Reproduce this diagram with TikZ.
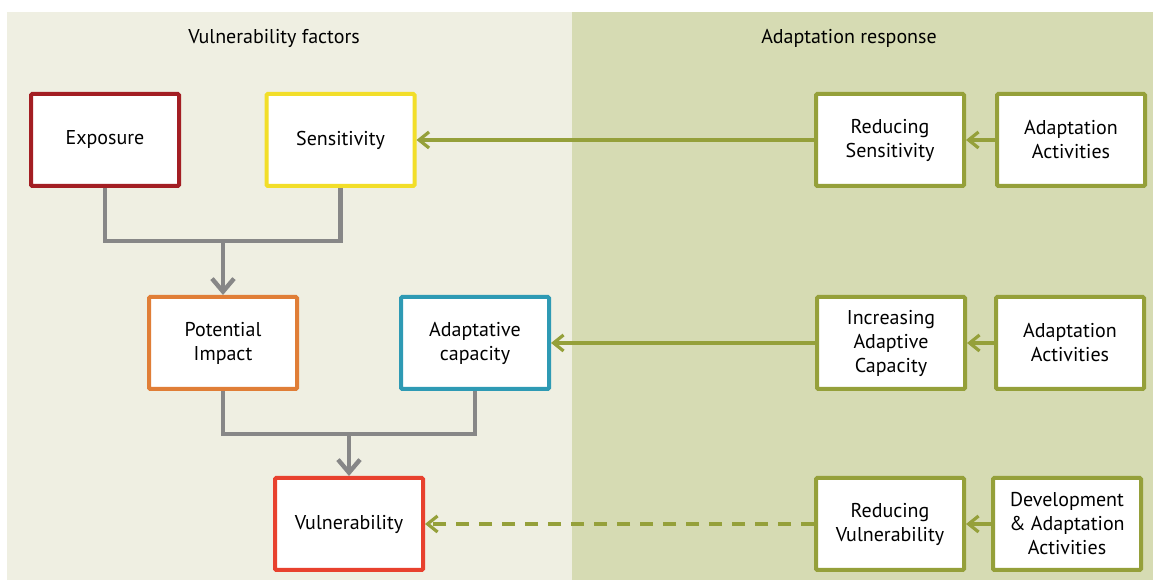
\documentclass[tikz,border=0pt]{standalone}
\usepackage{fontspec}
\setmainfont{PT Sans}
\usetikzlibrary{arrows.meta}

\definecolor{leftbg}{RGB}{239,239,226}
\definecolor{rightbg}{RGB}{214,219,179}
\definecolor{olive}{RGB}{149,160,58}
\definecolor{expred}{RGB}{163,30,35}
\definecolor{sensyellow}{RGB}{242,222,41}
\definecolor{imporange}{RGB}{224,126,55}
\definecolor{capteal}{RGB}{46,154,180}
\definecolor{vulnred}{RGB}{232,65,46}
\definecolor{linkgray}{RGB}{135,135,135}

\tikzset{
  box/.style={draw, fill=white, line width=2pt, rounded corners=0.6pt,
    minimum width=74pt, minimum height=46pt, align=center,
    font=\fontsize{10}{12}\selectfont},
  respbox/.style={box, draw=olive},
  graylink/.style={draw=linkgray, line width=2.2pt},
  grayarrow/.style={graylink, -{Straight Barb[length=6.5pt,width=11pt,line width=2.2pt]}},
  greenarrow/.style={draw=olive, line width=1.6pt, -{Straight Barb[length=5pt,width=8pt,line width=1.6pt]}}
}

\begin{document}
\begin{tikzpicture}[x=0.5pt,y=-0.5pt]
\useasboundingbox (0,0) rectangle (1153,582);
\fill[leftbg] (7,12) rectangle (572,580);
\fill[rightbg] (572,12) rectangle (1153,580);

\node (VF) at (274,38) {\fontsize{10}{12}\selectfont Vulnerability factors};
\node (AR) at (849,38) {\fontsize{10}{12}\selectfont Adaptation response};

\node[box, draw=expred] (E) at (105,140) {Exposure};
\node[box, draw=sensyellow] (S) at (340.5,140) {Sensitivity};
\node[box, draw=imporange] (PI) at (223,343) {Potential\\Impact};
\node[box, draw=capteal] (AC) at (475,343) {Adaptative\\capacity};
\node[box, draw=vulnred] (V) at (349,524) {Vulnerability};

\node[respbox] (RS) at (890,140) {Reducing\\Sensitivity};
\node[respbox] (AA1) at (1071,140) {Adaptation\\Activities};
\node[respbox] (IC) at (891,343) {Increasing\\Adaptive\\Capacity};
\node[respbox] (AA2) at (1070,343) {Adaptation\\Activities};
\node[respbox] (RV) at (890,524) {Reducing\\Vulnerability};
\node[respbox] (DA) at (1067,524) {Development\\\& Adaptation\\Activities};

% vulnerability side
\coordinate (J1) at (223,241);
\coordinate (J2) at (349,434);
\draw[graylink] (E.south) |- (J1) -| (S.south);
\draw[grayarrow] (J1) -- (PI.north);
\draw[graylink] (PI.south) |- (J2) -| (AC.south);
\draw[grayarrow] (J2) -- (V.north);

% adaptation side
\draw[greenarrow] (AA1) -- (RS);
\draw[greenarrow] (RS) -- (S);
\draw[greenarrow] (AA2) -- (IC);
\draw[greenarrow] (IC) -- (AC);
\draw[greenarrow] (DA) -- (RV);
\draw[greenarrow, dash pattern=on 6.5pt off 5pt] (RV) -- (V);
\end{tikzpicture}
\end{document}
